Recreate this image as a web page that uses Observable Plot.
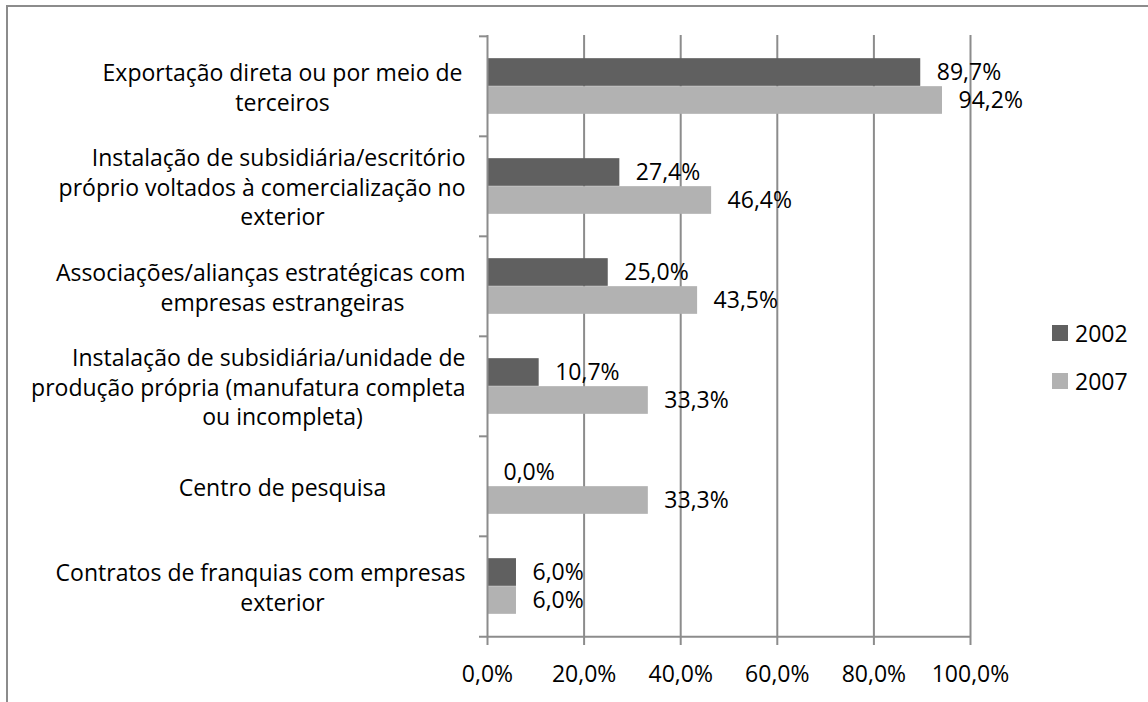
<!DOCTYPE html>
<html>
<head>
<meta charset="utf-8">
<script src="https://cdn.jsdelivr.net/npm/d3@7"></script>
<script src="https://cdn.jsdelivr.net/npm/@observablehq/plot@0.6"></script>
<style>
  html, body { margin: 0; padding: 0; background: #fff; }
  #wrap { position: relative; width: 1148px; height: 702px; overflow: hidden; font-family: "Open Sans", sans-serif; }
  #border { position: absolute; left: 6px; top: 5px; width: 1200px; height: 800px; border-left: 2px solid #8c8c8c; border-top: 2px solid #8c8c8c; box-sizing: border-box; pointer-events: none; }
  #legend { position: absolute; left: 1052px; top: 309px; font-size: 23px; color: #000; }
  .item { display: flex; align-items: center; height: 48px; }
  .sw { width: 16px; height: 16px; margin-right: 7px; }
</style>
</head>
<body>
<div id="wrap">
  <div id="chart"></div>
  <div id="border"></div>
  <div id="legend"></div>
</div>
<script>
const categories = [
  "Exportação direta ou por meio de\nterceiros",
  "Instalação de subsidiária/escritório\npróprio voltados à comercialização no\nexterior",
  "Associações/alianças estratégicas com\nempresas estrangeiras",
  "Instalação de subsidiária/unidade de\nprodução própria (manufatura completa\nou incompleta)",
  "Centro de pesquisa",
  "Contratos de franquias com empresas\nexterior"
];
const years = ["2002", "2007"];
const values2002 = [89.7, 27.4, 25.0, 10.7, 0.0, 6.0];
const values2007 = [94.2, 46.4, 43.5, 33.3, 33.3, 6.0];
const xTicks = [0, 20, 40, 60, 80, 100];
const colors = ["#606060", "#b2b2b2"];

const rows2002 = categories.map((c, i) => ({cat: c, year: "2002", value: values2002[i]}));
const rows2007 = categories.map((c, i) => ({cat: c, year: "2007", value: values2007[i]}));

const W = 1148, H = 702;
const mT = 35, mB = 65, mL = 487, mR = 178;
const bandH = (H - mT - mB) / categories.length;
const barH = 28;
const gap = (bandH - 2 * barH) / 2;
const grey = "#8c8c8c";
const fs = 23;
const labelCenterOffset = -205;   // label block centre relative to the axis
const labelRightGap = 22;         // long lines never come closer than this to the axis
const fmt = d => d.value.toFixed(1).replace(".", ",") + "%";

const chart = Plot.plot({
  width: W,
  height: H,
  marginTop: mT,
  marginBottom: mB,
  marginLeft: mL,
  marginRight: mR,
  style: {fontFamily: "Open Sans, sans-serif", fontSize: fs + "px", color: "#000", background: "transparent"},
  x: {domain: [0, 100], axis: null},
  y: {domain: categories, padding: 0, axis: null},
  color: {domain: years, range: colors},
  marks: [
    Plot.gridX({ticks: xTicks.slice(1), stroke: grey, strokeOpacity: 1, strokeWidth: 2}),
    Plot.barX(rows2002, {x: "value", y: "cat", fill: "year", insetTop: gap, insetBottom: bandH - gap - barH}),
    Plot.barX(rows2007, {x: "value", y: "cat", fill: "year", insetTop: gap + barH, insetBottom: gap}),
    Plot.ruleX([0], {stroke: grey, strokeWidth: 2}),
    Plot.ruleY(categories, {y: d => d, x1: 0, x2: 0, insetLeft: -8, dy: -bandH / 2, stroke: grey, strokeWidth: 2}),
    Plot.ruleY([categories[categories.length - 1]], {y: d => d, x1: 0, x2: 100, insetLeft: -8, dy: bandH / 2, stroke: grey, strokeWidth: 2}),
    Plot.axisX({ticks: xTicks, tickFormat: d => d.toFixed(1).replace(".", ",") + "%", tickSize: 8, tickPadding: 20, label: null, stroke: grey, strokeWidth: 2, strokeOpacity: 1, fill: "#000", fontSize: fs}),
    Plot.text(rows2002, {x: "value", y: "cat", text: fmt, textAnchor: "start", dx: 16, dy: -barH / 2, fill: "#000", fontSize: fs}),
    Plot.text(rows2007, {x: "value", y: "cat", text: fmt, textAnchor: "start", dx: 16, dy: barH / 2, fill: "#000", fontSize: fs}),
    Plot.text(categories, {y: d => d, text: d => d, frameAnchor: "left", dx: labelCenterOffset, textAnchor: "middle", lineHeight: 1.28, fill: "#000", fontSize: fs, className: "catlabels"})
  ]
});
document.getElementById("chart").appendChild(chart);

// keep long wrapped lines clear of the axis (as the original's label box does)
const maxHalfRight = -labelCenterOffset - labelRightGap;
chart.querySelectorAll(".catlabels tspan").forEach(ts => {
  const L = ts.getComputedTextLength();
  if (L / 2 > maxHalfRight) ts.setAttribute("x", String(maxHalfRight - L / 2));
});

const legend = document.getElementById("legend");
years.forEach((y, i) => {
  const item = document.createElement("div");
  item.className = "item";
  const sw = document.createElement("div");
  sw.className = "sw";
  sw.style.background = colors[i];
  const t = document.createElement("span");
  t.textContent = y;
  item.appendChild(sw);
  item.appendChild(t);
  legend.appendChild(item);
});
</script>
</body>
</html>
